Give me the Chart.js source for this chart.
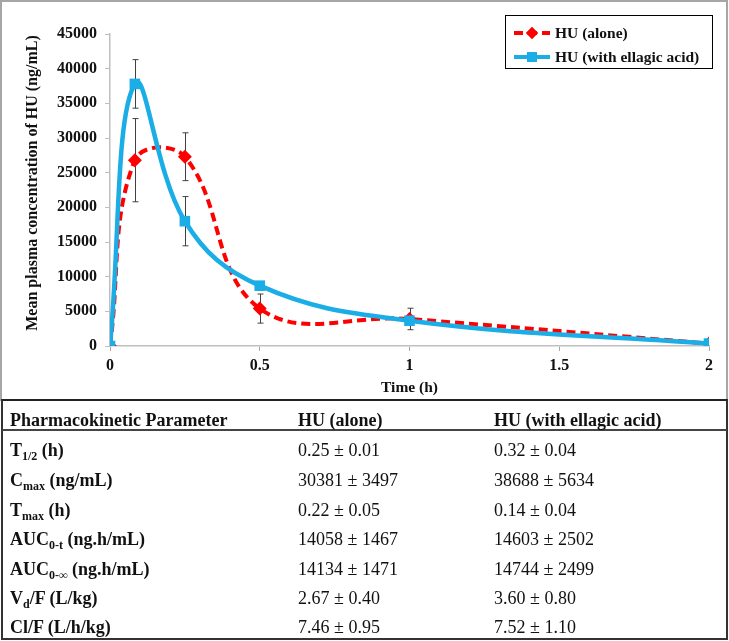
<!DOCTYPE html>
<html>
<head>
<meta charset="utf-8">
<script src="https://cdn.jsdelivr.net/npm/chart.js"></script>
<style>
  body { margin: 0; background: #fff; }
  #page { position: relative; width: 729px; height: 641px; background: #fff; font-family: "Liberation Serif", "Times New Roman", serif; color: #111; }
  #pkChart { position: absolute; left: 0; top: 0; }
  #frame { position: absolute; left: 0; top: 0; width: 728px; height: 401px; border: 2px solid #a6a6a6; box-sizing: border-box; pointer-events: none; }
  #pkTable { position: absolute; left: 1px; top: 399px; width: 727px; height: 241px; border: 2px solid #333; border-top: 2px solid #222; box-sizing: border-box; }
  #headLine { position: absolute; left: 2px; top: 429px; width: 725px; height: 2px; background: #444; }
  .row { position: absolute; left: 0; width: 729px; height: 22px; line-height: 22px; font-size: 18px; }
  .row span { position: absolute; top: 0; white-space: nowrap; }
  .c1 { left: 10px; font-weight: bold; }
  .c2 { left: 298px; }
  .c3 { left: 494px; }
  .head span { font-weight: bold; }
  sub { font-size: 12px; line-height: 0; vertical-align: -4px; }
</style>
</head>
<body>
<div id="page">
  <canvas id="pkChart" width="729" height="399"></canvas>
  <div id="frame"></div>
  <div id="pkTable"></div>
  <div id="headLine"></div>
  <div class="row head" style="top:409px"><span class="c1">Pharmacokinetic Parameter</span><span class="c2">HU (alone)</span><span class="c3">HU (with ellagic acid)</span></div>
  <div class="row" style="top:439px"><span class="c1">T<sub>1/2</sub> (h)</span><span class="c2">0.25 ± 0.01</span><span class="c3">0.32 ± 0.04</span></div>
  <div class="row" style="top:469px"><span class="c1">C<sub>max</sub> (ng/mL)</span><span class="c2">30381 ± 3497</span><span class="c3">38688 ± 5634</span></div>
  <div class="row" style="top:499px"><span class="c1">T<sub>max</sub> (h)</span><span class="c2">0.22 ± 0.05</span><span class="c3">0.14 ± 0.04</span></div>
  <div class="row" style="top:528px"><span class="c1">AUC<sub>0-t</sub> (ng.h/mL)</span><span class="c2">14058 ± 1467</span><span class="c3">14603 ± 2502</span></div>
  <div class="row" style="top:558px"><span class="c1">AUC<sub>0-∞</sub> (ng.h/mL)</span><span class="c2">14134 ± 1471</span><span class="c3">14744 ± 2499</span></div>
  <div class="row" style="top:587px"><span class="c1">V<sub>d</sub>/F (L/kg)</span><span class="c2">2.67 ± 0.40</span><span class="c3">3.60 ± 0.80</span></div>
  <div class="row" style="top:616px"><span class="c1">Cl/F (L/h/kg)</span><span class="c2">7.46 ± 0.95</span><span class="c3">7.52 ± 1.10</span></div>
</div>
<script>
const times = [0, 0.083, 0.25, 0.5, 1, 2];
const huAlone = [0, 26800, 27300, 5400, 3900, 350];
const huAloneErr = [0, 6000, 3450, 2100, 1550, 0];
const huEllagic = [0, 37800, 18000, 8700, 3650, 350];
const huEllagicErr = [0, 3500, 3550, 300, 300, 0];
const xTicks = [0, 0.5, 1, 1.5, 2];
const yTicks = [0, 5000, 10000, 15000, 20000, 25000, 30000, 35000, 40000, 45000];
const seriesNames = ['HU (alone)', 'HU (with ellagic acid)'];
const yTitle = 'Mean plasma concentration of HU (ng/mL)';

const RED = '#ff0000';
const BLUE = '#1aade6';
const serif = "'Liberation Serif', 'Times New Roman', serif";

Chart.defaults.font.family = serif;
Chart.defaults.color = '#111';

const pts = (ys) => times.map((t, i) => ({ x: t, y: ys[i] }));

// error bars under the lines
const errorBars = {
  id: 'errorBars',
  beforeDatasetsDraw(chart) {
    const { ctx, scales: { x, y } } = chart;
    ctx.save();
    ctx.strokeStyle = '#404040';
    ctx.lineWidth = 1;
    [[huAlone, huAloneErr], [huEllagic, huEllagicErr]].forEach(([vals, errs]) => {
      times.forEach((t, i) => {
        if (!errs[i]) return;
        const px = Math.round(x.getPixelForValue(t)) + 0.5;
        const top = y.getPixelForValue(vals[i] + errs[i]);
        const bot = y.getPixelForValue(vals[i] - errs[i]);
        ctx.beginPath();
        ctx.moveTo(px, top); ctx.lineTo(px, bot);
        ctx.moveTo(px - 3, top); ctx.lineTo(px + 3, top);
        ctx.moveTo(px - 3, bot); ctx.lineTo(px + 3, bot);
        ctx.stroke();
      });
    });
    ctx.restore();
  }
};

// y title sits a little above the plot centre in the original
const yTitleText = {
  id: 'yTitleText',
  afterDraw(chart) {
    const ctx = chart.ctx;
    ctx.save();
    ctx.translate(33, 183);
    ctx.rotate(-Math.PI / 2);
    ctx.font = 'bold 16px ' + serif;
    ctx.fillStyle = '#111';
    ctx.textAlign = 'center';
    ctx.textBaseline = 'middle';
    ctx.fillText(yTitle, 0, 0);
    ctx.restore();
  }
};

// boxed legend in the top right corner
const boxLegend = {
  id: 'boxLegend',
  afterDraw(chart) {
    const ctx = chart.ctx;
    ctx.save();
    ctx.strokeStyle = '#000';
    ctx.lineWidth = 1;
    ctx.strokeRect(505.5, 15.5, 207, 53);
    ctx.font = 'bold 15.5px ' + serif;
    ctx.fillStyle = '#111';
    ctx.textBaseline = 'middle';
    const rows = [
      { y: 33, color: RED, dash: [9, 5], style: 'rectRot', r: 6 },
      { y: 57, color: BLUE, dash: [], style: 'rect', r: 7 }
    ];
    rows.forEach((row, i) => {
      ctx.strokeStyle = row.color;
      ctx.lineWidth = 4;
      ctx.setLineDash(row.dash);
      ctx.beginPath();
      ctx.moveTo(514, row.y); ctx.lineTo(550, row.y);
      ctx.stroke();
      ctx.setLineDash([]);
      ctx.fillStyle = row.color;
      Chart.helpers.drawPoint(ctx, { pointStyle: row.style, radius: row.r, rotation: 0, borderWidth: 0 }, 532, row.y);
      ctx.fill();
      ctx.fillStyle = '#111';
      ctx.fillText(seriesNames[i], 555, row.y + 1);
    });
    ctx.restore();
  }
};

new Chart(document.getElementById('pkChart'), {
  type: 'scatter',
  data: {
    datasets: [
      {
        label: seriesNames[1],
        data: pts(huEllagic),
        showLine: true,
        borderColor: BLUE,
        backgroundColor: BLUE,
        borderWidth: 4.5,
        tension: 0.4,
        pointStyle: 'rect',
        pointRadius: 7.5,
        pointBorderWidth: 0
      },
      {
        label: seriesNames[0],
        data: pts(huAlone),
        showLine: true,
        borderColor: RED,
        backgroundColor: RED,
        borderWidth: 4,
        borderDash: [9, 5],
        tension: 0.4,
        pointStyle: 'rectRot',
        pointRadius: 7,
        pointBorderWidth: 0
      }
    ]
  },
  options: {
    responsive: false,
    animation: false,
    layout: { padding: { left: 0, top: 34, right: 20, bottom: 0 } },
    plugins: { legend: { display: false }, tooltip: { enabled: false } },
    scales: {
      x: {
        type: 'linear', min: 0, max: 2,
        afterBuildTicks: s => { s.ticks = xTicks.map(v => ({ value: v })); },
        afterFit: s => { s.height = 53; },
        grid: { drawOnChartArea: false, color: '#a6a6a6', tickLength: 5 },
        border: { color: '#bfbfbf', width: 1.5 },
        ticks: { padding: 5, color: '#111', callback: v => String(v), font: { size: 16, weight: 'bold' } },
        title: { display: true, text: 'Time (h)', color: '#111', padding: { top: 0, bottom: 2 }, font: { size: 15.5, weight: 'bold' } }
      },
      y: {
        min: 0, max: 45000,
        afterBuildTicks: s => { s.ticks = yTicks.map(v => ({ value: v })); },
        afterFit: s => { s.width = 110; },
        grid: { drawOnChartArea: false, color: '#bfbfbf', tickLength: 5 },
        border: { color: '#bfbfbf', width: 1.5 },
        ticks: { padding: 8, color: '#111', callback: v => String(v), font: { size: 16, weight: 'bold' } },
        title: { display: false }
      }
    }
  },
  plugins: [errorBars, yTitleText, boxLegend]
});
</script>
</body>
</html>
